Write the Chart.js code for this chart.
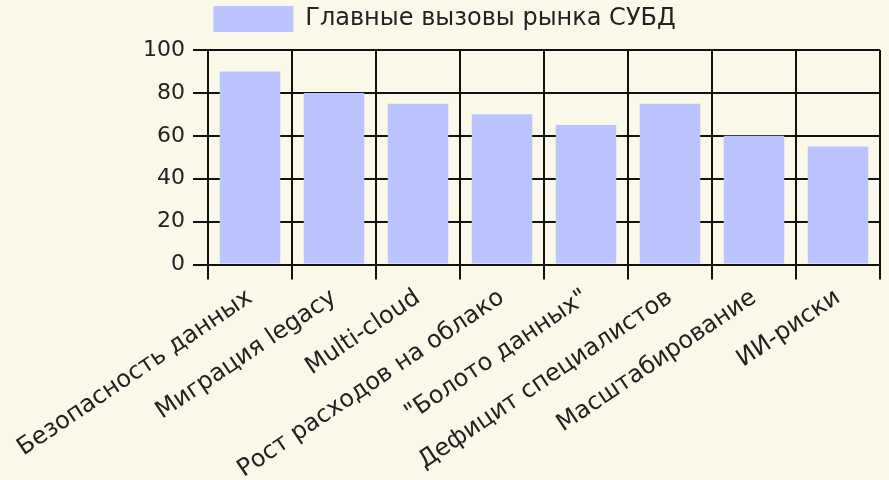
<!DOCTYPE html>
<html>
<head>
<meta charset="utf-8">
<script src="https://cdn.jsdelivr.net/npm/chart.js@4"></script>
<style>
  html, body { margin: 0; padding: 0; background: #faf8e8; }
  #wrap { width: 889px; height: 480px; }
</style>
</head>
<body>
<div id="wrap"><canvas id="myChart"></canvas></div>
<script>
var labels = [
  'Безопасность данных',
  'Миграция legacy',
  'Multi-cloud',
  'Рост расходов на облако',
  '"Болото данных"',
  'Дефицит специалистов',
  'Масштабирование',
  'ИИ-риски',
];
var values = [90, 80, 75, 70, 65, 75, 60, 55];
var seriesName = 'Главные вызовы рынка СУБД';

var bigFont = { family: '"DejaVu Sans", sans-serif', size: 24 };
var yFont = { family: '"DejaVu Sans", sans-serif', size: 22 };
var textColor = '#222';

var ctx = document.getElementById('myChart').getContext('2d');

var myChart = new Chart(ctx, {
  type: 'bar',
  data: {
    labels: labels,
    datasets: [
      {
        label: seriesName,
        data: values,
        backgroundColor: '#bbc4ff',
        borderWidth: 0,
      },
    ],
  },
  options: {
    responsive: true,
    maintainAspectRatio: false,
    animation: false,
    layout: { padding: { top: -4, left: 9, right: 9, bottom: -8 } },
    plugins: {
      legend: {
        labels: { boxWidth: 80, boxHeight: 26, padding: 10, font: bigFont, color: textColor },
      },
      // empty title used as a spacer between legend and plot
      title: {
        display: true,
        text: '',
        weight: 500,
        font: { size: 1, lineHeight: 1 },
        padding: { top: 7, bottom: 0 },
      },
      tooltip: { enabled: false },
    },
    scales: {
      x: {
        grid: { color: '#111', lineWidth: 2, tickLength: 15 },
        border: { color: '#111', width: 2 },
        ticks: { minRotation: 34, maxRotation: 34, padding: 4, font: bigFont, color: textColor },
      },
      y: {
        min: 0,
        max: 100,
        afterFit: function (axis) {
          axis.width = 199;
        },
        grid: { color: '#111', lineWidth: 2, tickLength: 15 },
        border: { color: '#111', width: 2 },
        ticks: { stepSize: 20, padding: 8, font: yFont, color: textColor },
      },
    },
  },
});
</script>
</body>
</html>
